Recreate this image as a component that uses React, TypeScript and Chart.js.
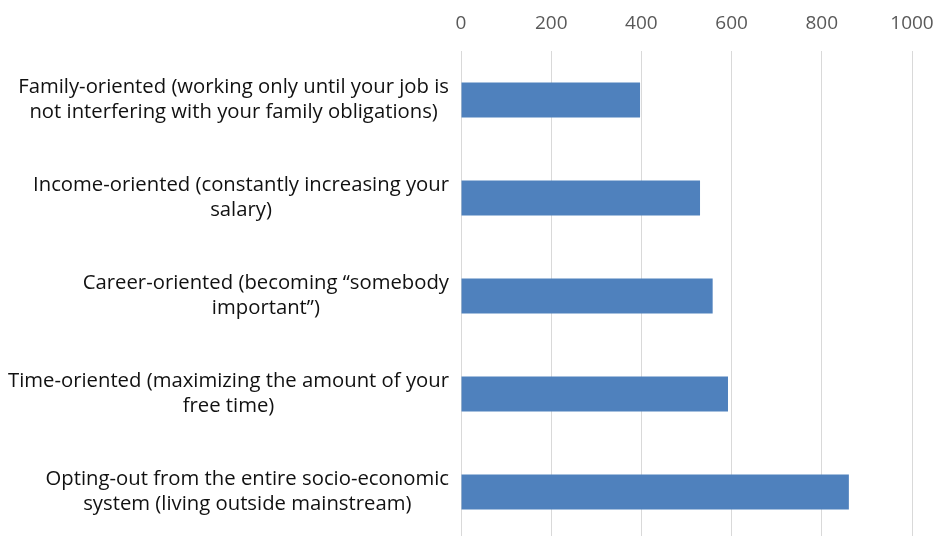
import React, { useEffect, useRef } from "react";
import { Chart, registerables } from "chart.js";

Chart.register(...registerables);

const categories: string[][] = [
  ["Family-oriented (working only until your job is", "not interfering with your family obligations)"],
  ["Income-oriented (constantly increasing your", "salary)"],
  ["Career-oriented (becoming \u201csomebody", "important\u201d)"],
  ["Time-oriented (maximizing the amount of your", "free time)"],
  ["Opting-out from the entire socio-economic", "system (living outside mainstream)"],
];
const values: number[] = [397, 530, 558, 592, 860];
const xMin = 0;
const xMax = 1000;
const xStep = 200;

const FONT = "'Open Sans', Lato, sans-serif";

const labelPlugin = {
  id: "blockLabels",
  afterDraw(chart: any) {
    const ctx = chart.ctx;
    const yScale = chart.scales.y;
    const right = chart.chartArea.left - 12;
    ctx.save();
    ctx.font = `20.3px ${FONT}`;
    ctx.fillStyle = "#111111";
    ctx.textBaseline = "middle";
    ctx.textAlign = "center";
    categories.forEach((lines, i) => {
      const cy = yScale.getPixelForTick(i);
      const w = Math.max(...lines.map((l) => ctx.measureText(l).width));
      const cx = right - w / 2;
      const lh = 25;
      lines.forEach((l, j) => {
        ctx.fillText(l, cx, cy + (j - (lines.length - 1) / 2) * lh);
      });
    });
    ctx.restore();
  },
};

export default function App() {
  const ref = useRef<HTMLCanvasElement | null>(null);
  useEffect(() => {
    if (!ref.current) return;
    const chart = new Chart(ref.current, {
      type: "bar",
      data: {
        labels: categories.map((c) => c.join(" ")),
        datasets: [
          {
            data: values,
            backgroundColor: "#4F81BD",
            borderWidth: 0,
            categoryPercentage: 1,
            barPercentage: 0.355,
          },
        ],
      },
      options: {
        indexAxis: "y",
        responsive: false,
        animation: false,
        layout: { padding: 0 },
        plugins: {
          legend: { display: false },
          tooltip: { enabled: false },
        },
        scales: {
          x: {
            position: "top",
            min: xMin,
            max: xMax,
            grid: { color: "#D9D9D9", lineWidth: 1, drawTicks: false },
            border: { display: false },
            ticks: {
              stepSize: xStep,
              color: "#595959",
              font: { family: FONT, size: 19 },
              padding: 16,
              callback: (v: any) => String(v),
            },
            afterFit: (s: any) => {
              s.height = 51;
              s.paddingLeft = 0;
              s.paddingRight = 24;
            },
          },
          y: {
            grid: { display: false },
            border: { display: false },
            ticks: { display: false },
            afterFit: (s: any) => {
              s.width = 461;
            },
          },
        },
      },
      plugins: [labelPlugin],
    });
    return () => chart.destroy();
  }, []);
  return (
    <div
      style={{
        position: "absolute",
        left: 0,
        top: 0,
        width: 936,
        height: 536,
        overflow: "hidden",
        background: "#fff",
      }}
    >
      <canvas ref={ref} width={936} height={541} style={{ display: "block" }} />
    </div>
  );
}
